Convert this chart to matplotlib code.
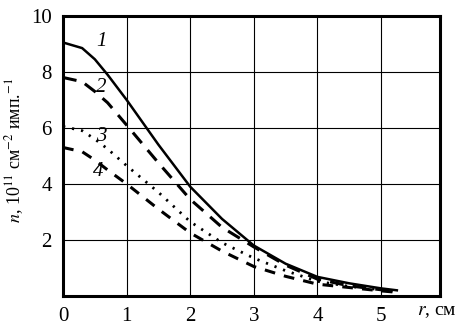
import numpy as np
import matplotlib
matplotlib.use("Agg")
import matplotlib.pyplot as plt

plt.rcParams['font.family'] = ['Liberation Serif', 'DejaVu Serif']
plt.rcParams['mathtext.fontset'] = 'stix'

# r, cm
r = [0.0, 0.3, 0.5, 0.7, 1.0, 1.5, 2.0, 2.5, 3.0, 3.5, 4.0, 4.5, 5.0, 5.25]
n1 = [9.05, 8.85, 8.45, 7.9, 7.0, 5.4, 3.9, 2.75, 1.8, 1.15, 0.68, 0.45, 0.27, 0.2]
n2 = [7.8, 7.65, 7.3, 6.9, 6.1, 4.75, 3.45, 2.45, 1.75, 1.1, 0.6, 0.36, 0.22, 0.15]
n3 = [6.05, 5.9, 5.6, 5.25, 4.65, 3.7, 2.65, 1.9, 1.35, 0.9, 0.52, 0.34, 0.22, 0.16]
n4 = [5.3, 5.15, 4.85, 4.5, 4.0, 3.1, 2.25, 1.6, 1.05, 0.7, 0.42, 0.3, 0.18, 0.13]
curve_labels = ["1", "2", "3", "4"]
label_pos = [(0.6, 9.1), (0.6, 7.45), (0.6, 5.7), (0.55, 4.45)]

fig = plt.figure(figsize=(4.57, 3.31), dpi=100)
ax = fig.add_axes([0.138, 0.106, 0.825, 0.846])

ax.plot(r, n1, color='black', lw=1.8, ls='-')
ax.plot(r, n2, color='black', lw=2.2, ls=(0, (4.5, 3)))
ax.plot(r, n3, color='black', lw=2.0, ls=(0, (0.8, 2.5)))
ax.plot(r, n4, color='black', lw=2.2, ls=(0, (3.5, 3)))

for lab, (x, y) in zip(curve_labels, label_pos):
    ax.text(x, y, lab, fontsize=15, style='italic', ha='center', va='center')

ax.set_xlim(0, 5.93)
ax.set_ylim(0, 10)
ax.set_xticks([0, 1, 2, 3, 4, 5])
ax.set_yticks([2, 4, 6, 8, 10])
ax.grid(True, color='black', lw=0.8)
ax.tick_params(length=0, labelsize=15, pad=8)
for s in ax.spines.values():
    s.set_linewidth(2.2)

ax.set_ylabel(r"$n$, 10$^{11}$ см$^{-2}$ имп.$^{-1}$", fontsize=13)
ax.yaxis.set_label_coords(-0.098, 0.52)
ax.text(5.57, -0.55, r"$r$, см", fontsize=14, ha='left', va='center', clip_on=False)

fig.savefig("out.png", dpi=100)
